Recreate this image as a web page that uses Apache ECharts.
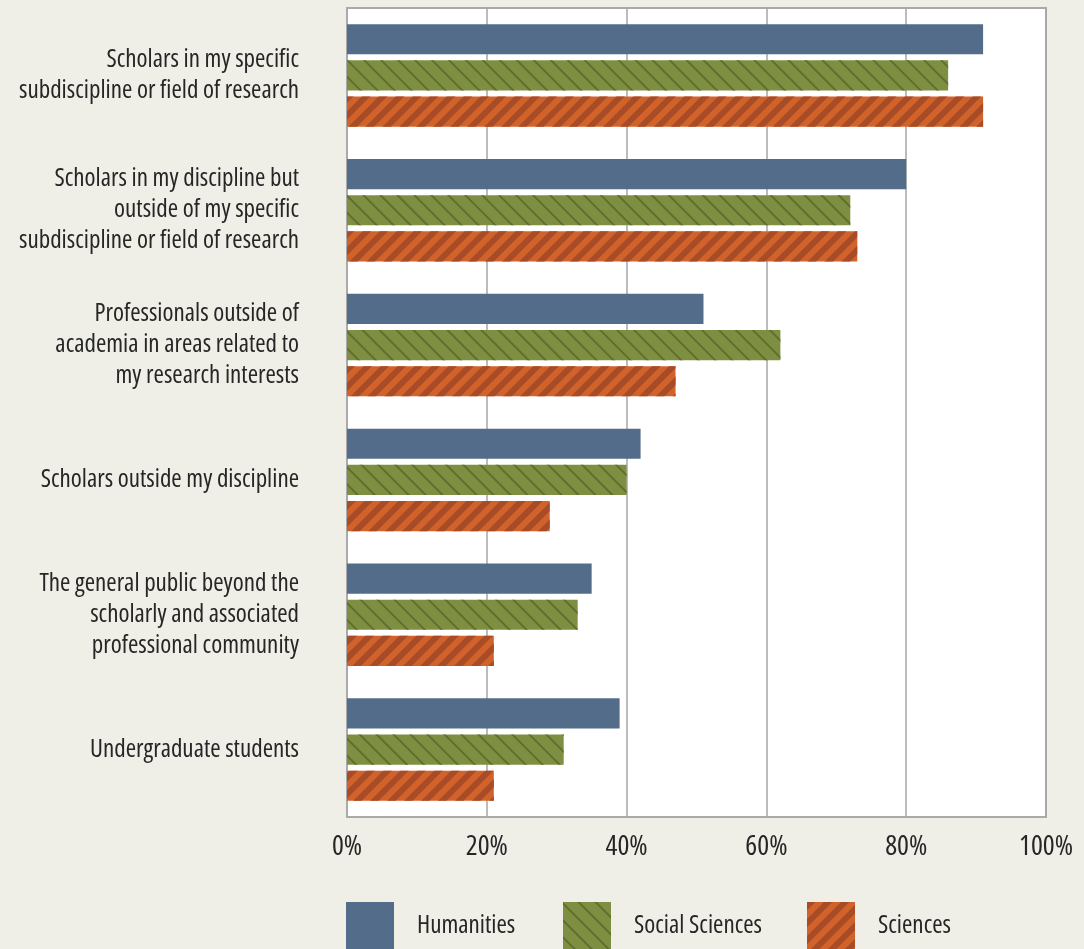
<!DOCTYPE html>
<html>
<head>
<meta charset="utf-8">
<script src="https://cdn.jsdelivr.net/npm/echarts@6/dist/echarts.min.js"></script>
<style>
html,body{margin:0;padding:0;background:#efeee7;}
#c{width:1084px;height:949px;}
</style>
</head>
<body>
<div id="c"></div>
<script>
const categories = [
  "Scholars in my specific\nsubdiscipline or field of research",
  "Scholars in my discipline but\noutside of my specific\nsubdiscipline or field of research",
  "Professionals outside of\nacademia in areas related to\nmy research interests",
  "Scholars outside my discipline",
  "The general public beyond the\nscholarly and associated\nprofessional community",
  "Undergraduate students"
];
const seriesNames = ["Humanities", "Social Sciences", "Sciences"];
const humanities = [91, 80, 51, 42, 35, 39];
const socialSciences = [86, 72, 62, 40, 33, 31];
const sciences = [91, 73, 47, 29, 21, 21];
const xTicks = [0, 20, 40, 60, 80, 100];

// --- condensed font support: route a stretch keyword to ctx.fontStretch ---
const STRETCHES = ['ultra-condensed', 'extra-condensed', 'semi-condensed', 'condensed'];
(function patchFont() {
  const proto = CanvasRenderingContext2D.prototype;
  const desc = Object.getOwnPropertyDescriptor(proto, 'font');
  if (!desc || !('fontStretch' in proto)) return;
  Object.defineProperty(proto, 'font', {
    configurable: true,
    get: function () { return desc.get.call(this); },
    set: function (v) {
      let st = 'normal';
      if (typeof v === 'string') {
        for (const s of STRETCHES) {
          const re = new RegExp('(^|\\s)' + s + '(\\s|$)');
          if (re.test(v)) { st = s; v = v.replace(re, ' ').trim(); break; }
        }
      }
      desc.set.call(this, v);
      try { this.fontStretch = st; } catch (e) {}
    }
  });
})();

function pickFont() {
  const ctx = document.createElement('canvas').getContext('2d');
  const sample = 'subdiscipline or field of research';
  const target = 285;
  const fams = ['Noto Sans', 'Roboto', 'Open Sans', 'Liberation Sans', 'DejaVu Sans'];
  const stretches = ['normal', 'semi-condensed', 'condensed', 'extra-condensed'];
  let best = null;
  for (const f of fams) {
    ctx.font = '24px "' + f + '"';
    const base = ctx.measureText(sample).width;
    for (const s of stretches) {
      ctx.font = (s === 'normal' ? '' : s + ' ') + '24px "' + f + '"';
      const w = ctx.measureText(sample).width;
      if (s !== 'normal' && w > base * 0.97) continue;
      const size = 24 * target / w;
      const score = Math.abs(size - 24);
      if (!best || score < best.score) best = { f: f, s: s, size: size, score: score };
    }
  }
  return best;
}
const fp = pickFont();
const FONT = '"' + fp.f + '", "Liberation Sans", sans-serif';
const FSTYLE = fp.s === 'normal' ? 'normal' : fp.s;
const k = fp.size / 24;
const TXT = '#262626';

const styles = [
  { color: '#536c8a' },
  { color: '#7f8f42', decal: { symbol: 'rect', symbolSize: 1, dashArrayX: [1, 0], dashArrayY: [2, 9.5], rotation: Math.PI / 4, color: '#5e6f2e' } },
  { color: '#d1622a', decal: { symbol: 'rect', symbolSize: 1, dashArrayX: [1, 0], dashArrayY: [5.5, 5.5], rotation: -Math.PI / 4, color: '#a84b27' } }
];
const dataSets = [humanities, socialSciences, sciences];

const chart = echarts.init(document.getElementById('c'), null, { renderer: 'canvas' });
const legendLefts = [346, 563, 807];
const option = {
  backgroundColor: '#efeee7',
  animation: false,
  textStyle: { fontFamily: FONT, fontStyle: FSTYLE },
  grid: {
    left: 347, right: 38, top: 8, bottom: 132,
    show: true, backgroundColor: '#ffffff', borderColor: '#aaaaaa', borderWidth: 2,
    containLabel: false, outerBoundsMode: 'none'
  },
  legend: seriesNames.map((n, i) => ({
    data: [n],
    left: legendLefts[i],
    top: 902,
    padding: 0,
    itemWidth: 48,
    itemHeight: 48,
    icon: 'rect',
    selectedMode: false,
    textStyle: { fontFamily: FONT, fontStyle: FSTYLE, fontSize: Math.round(24 * k), color: TXT, padding: [0, 0, 0, 18] }
  })),
  xAxis: {
    type: 'value',
    min: xTicks[0], max: xTicks[xTicks.length - 1], interval: 20,
    axisLine: { show: false },
    axisTick: { show: false },
    splitLine: { show: true, lineStyle: { color: '#a6a6a6', width: 1.5 } },
    axisLabel: { formatter: '{value}%', fontFamily: FONT, fontStyle: FSTYLE, fontSize: Math.round(26 * k), color: TXT, margin: 16 }
  },
  yAxis: {
    type: 'category',
    data: categories,
    inverse: true,
    axisLine: { show: true, lineStyle: { color: '#aaaaaa', width: 2 } },
    axisTick: { show: false },
    axisLabel: { fontFamily: FONT, fontStyle: FSTYLE, fontSize: Math.round(24 * k), color: TXT, margin: 48, lineHeight: 31, align: 'right' }
  },
  series: seriesNames.map((n, i) => ({
    name: n,
    type: 'bar',
    data: dataSets[i],
    barCategoryGap: '24%',
    barGap: '20%',
    itemStyle: styles[i]
  }))
};
chart.setOption(option);
</script>
</body>
</html>
